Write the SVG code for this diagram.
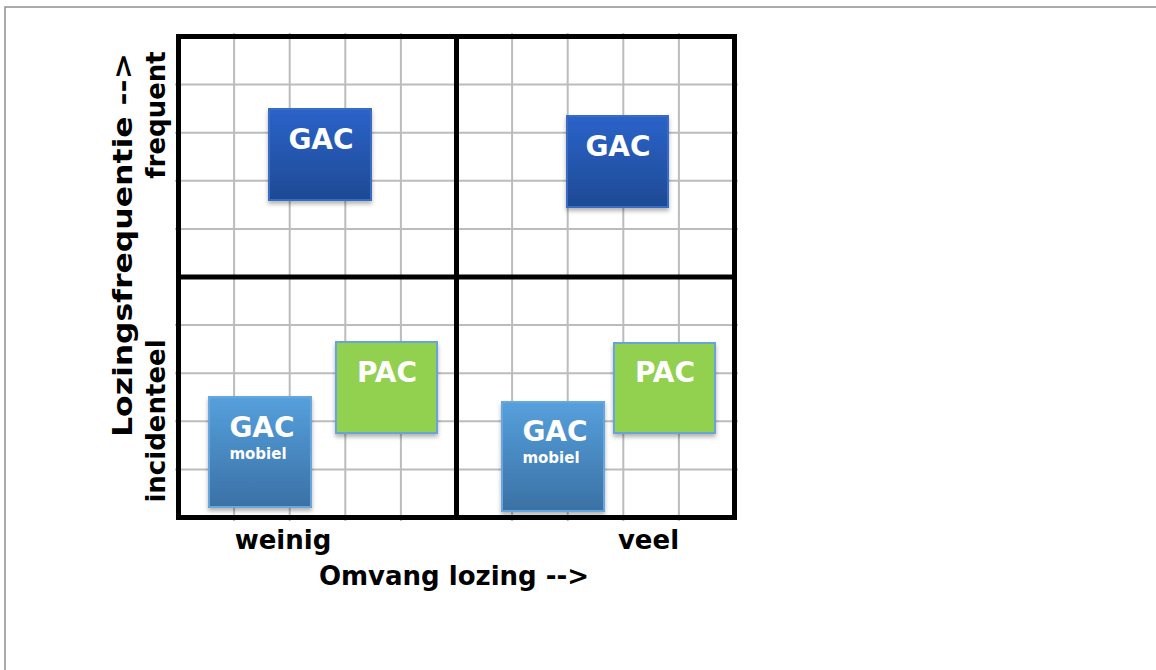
<svg xmlns="http://www.w3.org/2000/svg" width="1156" height="670" viewBox="0 0 1156 670">
  <style>
    .grid line { stroke: #bcbcbc; stroke-width: 2; }
    .frame { fill: none; stroke: #000; stroke-width: 5; }
    .axis { stroke: #000; stroke-width: 5; }
    .lbl { font-family: "DejaVu Sans", "Liberation Sans", sans-serif; font-weight: bold; font-size: 26px; fill: #000; text-anchor: middle; }
    .box-title { font-family: "DejaVu Sans", "Liberation Sans", sans-serif; font-weight: bold; font-size: 28px; fill: #fff; text-anchor: middle; }
    .box-sub { font-family: "DejaVu Sans", "Liberation Sans", sans-serif; font-weight: bold; font-size: 15px; fill: #fff; text-anchor: middle; }
    .gac { fill: url(#gacFill); stroke: #3a6cc4; stroke-width: 2; filter: url(#shadow); }
    .gacm { fill: url(#gacmFill); stroke: #68a7de; stroke-width: 2; filter: url(#shadow); }
    .pac { fill: #92d050; stroke: #6ba3d8; stroke-width: 2; filter: url(#shadow); }
  </style>
  <defs>
    <linearGradient id="gacFill" x1="0" y1="0" x2="0" y2="1">
      <stop offset="0" stop-color="#2b63c9"/>
      <stop offset="1" stop-color="#1e4a94"/>
    </linearGradient>
    <linearGradient id="gacmFill" x1="0" y1="0" x2="0" y2="1">
      <stop offset="0" stop-color="#56a0dc"/>
      <stop offset="1" stop-color="#3a71a5"/>
    </linearGradient>
    <filter id="shadow" x="-20%" y="-20%" width="140%" height="140%">
      <feDropShadow dx="0" dy="3" stdDeviation="2" flood-color="#000" flood-opacity="0.3"/>
    </filter>
  </defs>

  <rect width="1156" height="670" fill="#fff"/>
  <!-- page edge -->
  <rect x="5" y="7" width="1160" height="700" fill="none" stroke="#8f8f8f" stroke-width="1.5"/>

  <!-- chart grid -->
  <g id="grid" class="grid">
    <line x1="234.1" y1="33" x2="234.1" y2="521"/>
    <line x1="289.7" y1="33" x2="289.7" y2="521"/>
    <line x1="345.3" y1="33" x2="345.3" y2="521"/>
    <line x1="400.9" y1="33" x2="400.9" y2="521"/>
    <line x1="512.1" y1="33" x2="512.1" y2="521"/>
    <line x1="567.7" y1="33" x2="567.7" y2="521"/>
    <line x1="623.3" y1="33" x2="623.3" y2="521"/>
    <line x1="678.9" y1="33" x2="678.9" y2="521"/>
    <line x1="175" y1="84.6" x2="738" y2="84.6"/>
    <line x1="175" y1="132.7" x2="738" y2="132.7"/>
    <line x1="175" y1="180.8" x2="738" y2="180.8"/>
    <line x1="175" y1="228.9" x2="738" y2="228.9"/>
    <line x1="175" y1="325.1" x2="738" y2="325.1"/>
    <line x1="175" y1="373.2" x2="738" y2="373.2"/>
    <line x1="175" y1="421.3" x2="738" y2="421.3"/>
    <line x1="175" y1="469.4" x2="738" y2="469.4"/>
  </g>

  <!-- quadrant frame -->
  <g id="frame">
    <rect class="frame" x="178.5" y="36.5" width="556" height="481"/>
    <line class="axis" x1="456.5" y1="36.5" x2="456.5" y2="517.5"/>
    <line class="axis" x1="178.5" y1="277" x2="734.5" y2="277"/>
  </g>

  <!-- axis labels -->
  <g id="labels">
    <text class="lbl" transform="translate(132,245) rotate(-90)" textLength="384" lengthAdjust="spacingAndGlyphs">Lozingsfrequentie --&gt;</text>
    <text class="lbl" transform="translate(165,115) rotate(-90)">frequent</text>
    <text class="lbl" transform="translate(165,421) rotate(-90)">incidenteel</text>
    <text class="lbl" x="283" y="549">weinig</text>
    <text class="lbl" x="648.5" y="549">veel</text>
    <text class="lbl" x="454" y="585">Omvang lozing --&gt;</text>
  </g>

  <!-- nodes -->
  <g id="gac-frequent-weinig">
    <rect class="gac" x="269" y="109" width="102" height="91"/>
    <text class="box-title" x="321" y="149">GAC</text>
  </g>
  <g id="gac-frequent-veel">
    <rect class="gac" x="567" y="116" width="101" height="91"/>
    <text class="box-title" x="618" y="156">GAC</text>
  </g>
  <g id="gac-mobiel-weinig">
    <rect class="gacm" x="209" y="397" width="102" height="110"/>
    <text class="box-title" x="262" y="437">GAC</text>
    <text class="box-sub" x="258" y="459">mobiel</text>
  </g>
  <g id="pac-weinig">
    <rect class="pac" x="336" y="342" width="101" height="91"/>
    <text class="box-title" x="387" y="382">PAC</text>
  </g>
  <g id="gac-mobiel-veel">
    <rect class="gacm" x="502" y="402" width="102" height="109"/>
    <text class="box-title" x="555" y="441">GAC</text>
    <text class="box-sub" x="551" y="463">mobiel</text>
  </g>
  <g id="pac-veel">
    <rect class="pac" x="614" y="343" width="101" height="90"/>
    <text class="box-title" x="665" y="382">PAC</text>
  </g>
</svg>
